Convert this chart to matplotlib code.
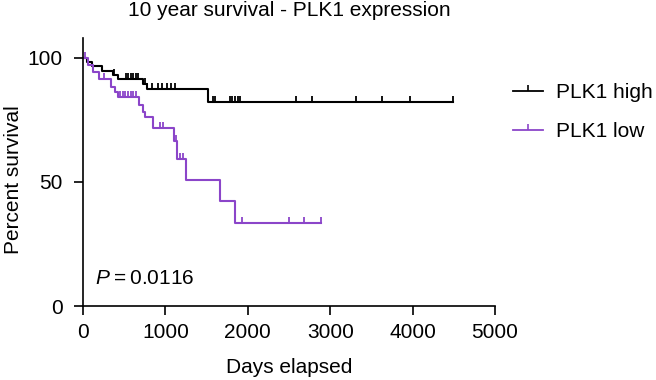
import matplotlib
matplotlib.use('Agg')
import matplotlib.pyplot as plt
import numpy as np

# Kaplan-Meier step data (days, percent survival after event)
high_days = [0, 52, 105, 227, 368, 421, 732, 773, 1511, 4489]
high_surv = [100, 98.3, 96.6, 94.9, 93.2, 91.5, 89.5, 87.6, 82.1, 82.1]
high_censor = [380, 521, 550, 582, 610, 642, 671, 752, 780, 832, 913, 953, 1014, 1067, 1115,
               1580, 1608, 1782, 1814, 1842, 1875, 1907, 2582, 2784, 3317, 3632, 3964, 4489]

low_days = [0, 65, 125, 200, 345, 390, 430, 680, 732, 752, 850, 1100, 1145, 1255, 1663, 1842, 2893]
low_surv = [100, 97.1, 94.2, 91.3, 88.3, 86.2, 84.2, 80.8, 78.1, 76.1, 71.6, 66.4, 59.1, 50.7, 42.3, 33.6, 33.6]
low_censor = [20, 260, 448, 481, 513, 545, 578, 610, 642, 935, 975, 1125, 1177, 1218, 1931, 2501, 2679, 2893]

labels = ['PLK1 high', 'PLK1 low']
colors = ['#000000', '#8b45c9']
x_ticks = [0, 1000, 2000, 3000, 4000, 5000]
y_ticks = [0, 50, 100]
p_text = '0.0116'

plt.rcParams['font.family'] = ['Liberation Sans', 'DejaVu Sans']
plt.rcParams['mathtext.fontset'] = 'custom'
plt.rcParams['mathtext.it'] = 'Liberation Sans:italic'
plt.rcParams['mathtext.rm'] = 'Liberation Sans'

fs = 15

fig = plt.figure(figsize=(6.56, 3.80), dpi=100)
ax = fig.add_axes([83 / 656, 1 - 306 / 380, (495 - 83) / 656, (306 - 38) / 380])


def surv_at(days, surv, t):
	# survival level of the step curve at time t
	idx = np.searchsorted(days, t, side='right') - 1
	return np.array(surv)[idx]


for days, surv, cens, col, lab in zip([high_days, low_days], [high_surv, low_surv],
                                      [high_censor, low_censor], colors, labels):
	ax.step(days, surv, where='post', color=col, lw=1.5)
	ax.plot(cens, [surv_at(days, surv, c) for c in cens], linestyle='none', marker=2,
	        markersize=4, markeredgewidth=1.3, color=col)
	# legend proxy
	ax.plot([], [], color=col, lw=1.3, marker=2, markersize=4, markeredgewidth=1.2, label=lab)

ax.set_xlim(0, 5000)
ax.set_ylim(0, 108)
ax.set_xticks(x_ticks)
ax.set_yticks(y_ticks)
ax.tick_params(length=6.5, width=1.2, labelsize=fs, direction='out')
ax.tick_params(axis='x', pad=6)
ax.tick_params(axis='y', pad=8)
for s in ['top', 'right']:
	ax.spines[s].set_visible(False)
for s in ['left', 'bottom']:
	ax.spines[s].set_linewidth(1.2)

ax.set_xlabel('Days elapsed', fontsize=fs)
ax.set_ylabel('Percent survival', fontsize=fs)
ax.xaxis.set_label_coords(0.5, -0.195)
ax.yaxis.set_label_coords(-0.145, 0.47)

ax.text(145, 11, r'$\mathit{P}$' + '\u2009=\u2009' + p_text, fontsize=fs, va='center', ha='left')

fig.text(289 / 656, 1 - 11 / 380, '10 year survival - PLK1 expression', fontsize=fs,
         ha='center', va='center')

ax.legend(loc='upper left', bbox_to_anchor=(513 / 656, 1 - 83 / 380), bbox_transform=fig.transFigure,
          frameon=False, fontsize=fs, handlelength=1.45, labelspacing=0.95, handletextpad=0.6,
          borderpad=0, borderaxespad=0)

fig.savefig('out.png', dpi=100)
